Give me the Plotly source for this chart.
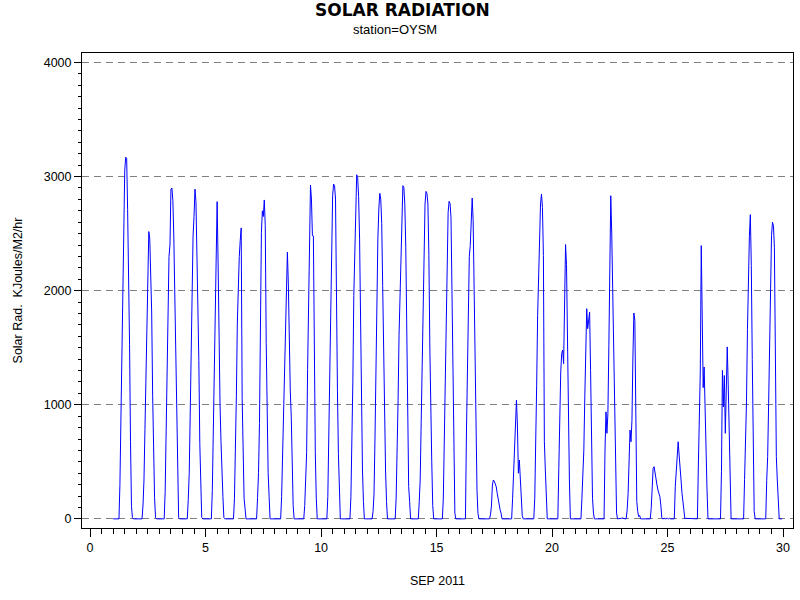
import plotly.graph_objects as go

# Radiação solar horária (KJoules/M2/hr), estação OYSM, setembro 2011
# cada lista = 24 valores horários (hora 0 a 23) do dia
sep01 = [0, 0, 0, 0, 0, 0, 0, 300, 920, 1610, 2230, 2730, 3050, 3170, 3160, 2710, 2180, 1530, 680, 110, 12, 0, 0, 0]
sep02 = [0, 0, 0, 0, 0, 0, 0, 122, 341, 784, 1238, 1745, 2322, 2518, 2454, 2177, 1813, 1084, 463, 186, 12, 0, 0, 0]
sep03 = [0, 0, 0, 0, 0, 0, 240, 730, 1250, 1870, 2300, 2400, 2890, 2900, 2790, 2470, 1990, 1360, 680, 180, 12, 0, 0, 0]
sep04 = [0, 0, 0, 0, 0, 0, 170, 400, 900, 1500, 1850, 2480, 2650, 2890, 2780, 2400, 1950, 1390, 660, 180, 12, 0, 0, 0]
sep05 = [0, 0, 0, 0, 0, 0, 0, 250, 800, 1400, 2000, 2450, 2780, 2250, 1400, 1010, 680, 350, 195, 12, 0, 0, 0, 0]
sep06 = [0, 0, 0, 0, 0, 0, 181, 530, 1084, 1716, 2060, 2300, 2440, 2550, 1055, 414, 181, 93, 0, 0, 0, 0, 0, 0]
sep07 = [0, 0, 0, 0, 0, 0, 186, 405, 836, 1914, 2512, 2700, 2650, 2795, 2570, 1535, 836, 405, 195, 0, 0, 0, 0, 0]
sep08 = [0, 0, 0, 0, 0, 0, 0, 195, 574, 1011, 1157, 1500, 1871, 2337, 2060, 1492, 1122, 900, 492, 117, 0, 0, 0, 0]
sep09 = [0, 0, 0, 0, 0, 0, 0, 117, 312, 580, 1308, 1877, 2570, 2926, 2803, 2483, 2480, 1250, 580, 181, 0, 0, 0, 0]
sep10 = [0, 0, 0, 0, 0, 0, 0, 195, 720, 1405, 2037, 2520, 2832, 2934, 2920, 2803, 1769, 1128, 574, 172, 0, 0, 0, 0]
sep11 = [0, 0, 0, 0, 0, 0, 0, 195, 589, 1192, 1958, 2352, 2710, 3016, 2993, 2824, 2454, 1667, 924, 428, 152, 0, 0, 0]
sep12 = [0, 0, 0, 0, 0, 0, 64, 218, 700, 1384, 1717, 2454, 2716, 2853, 2803, 2590, 2046, 1384, 822, 428, 152, 0, 0, 0]
sep13 = [0, 0, 0, 0, 0, 0, 181, 516, 1040, 1609, 1987, 2308, 2622, 2920, 2905, 2760, 2380, 1571, 880, 283, 152, 0, 0, 0]
sep14 = [0, 0, 0, 0, 0, 0, 152, 350, 842, 1361, 1996, 2454, 2760, 2870, 2853, 2760, 2308, 1507, 836, 501, 117, 0, 0, 0]
sep15 = [0, 0, 0, 0, 0, 0, 0, 175, 661, 1302, 1914, 2380, 2687, 2783, 2765, 2640, 1856, 1122, 560, 50, 0, 0, 0, 0]
sep16 = [0, 0, 0, 0, 0, 0, 0, 734, 1419, 2017, 2300, 2395, 2620, 2812, 2615, 1900, 1244, 632, 248, 50, 0, 0, 0, 0]
sep17 = [0, 0, 0, 0, 0, 0, 0, 0, 35, 114, 297, 341, 330, 312, 280, 224, 160, 122, 80, 50, 0, 0, 0, 0]
sep18 = [0, 0, 0, 0, 0, 0, 0, 181, 370, 618, 836, 1040, 822, 400, 516, 370, 195, 30, 0, 0, 0, 0, 0, 0]
sep19 = [0, 0, 0, 0, 0, 0, 181, 574, 1171, 1783, 2133, 2468, 2760, 2847, 2730, 2308, 676, 428, 117, 0, 0, 0, 0, 0]
sep20 = [0, 0, 0, 0, 0, 0, 0, 443, 924, 1288, 1449, 1480, 1360, 1880, 2404, 2230, 1492, 836, 341, 0, 0, 0, 0, 0]
sep21 = [0, 0, 0, 0, 0, 0, 0, 181, 355, 603, 1069, 1580, 1842, 1667, 1754, 1813, 1302, 574, 181, 50, 0, 0, 0, 0]
sep22 = [0, 0, 0, 0, 0, 0, 0, 603, 938, 750, 924, 1521, 2433, 2832, 2497, 2017, 1594, 900, 283, 50, 0, 0, 0, 0]
sep23 = [5, 8, 3, 0, 0, 0, 79, 224, 545, 778, 676, 865, 1419, 1804, 1740, 953, 152, 64, 20, 30, 0, 0, 0, 0]
sep24 = [0, 0, 0, 0, 0, 0, 0, 93, 277, 443, 457, 400, 320, 297, 253, 220, 195, 122, 10, 0, 5, 5, 0, 5]
sep25 = [5, 0, 5, 0, 0, 0, 0, 0, 283, 400, 574, 676, 560, 472, 341, 224, 137, 35, 0, 5, 5, 0, 5, 0]
sep26 = [0, 0, 0, 0, 0, 0, 0, 0, 472, 895, 1288, 2395, 1842, 1150, 1331, 851, 589, 253, 0, 0, 0, 0, 0, 0]
sep27 = [0, 0, 0, 0, 0, 0, 0, 0, 414, 1302, 982, 1256, 750, 1302, 1507, 1180, 765, 297, 0, 0, 0, 0, 0, 0]
sep28 = [0, 0, 0, 0, 0, 0, 0, 0, 347, 697, 1026, 1658, 2171, 2477, 2666, 2220, 1396, 647, 64, 0, 0, 0, 0, 0]
sep29 = [0, 0, 0, 0, 0, 0, 0, 335, 545, 1011, 1652, 2191, 2483, 2600, 2570, 2380, 1405, 545, 341, 64, 0, 0, 0, 0]

dias = [sep01, sep02, sep03, sep04, sep05, sep06, sep07, sep08, sep09, sep10,
        sep11, sep12, sep13, sep14, sep15, sep16, sep17, sep18, sep19, sep20,
        sep21, sep22, sep23, sep24, sep25, sep26, sep27, sep28, sep29]

# eixo x em dias do mês (dia + hora/24)
x = []
y = []
for i, valores in enumerate(dias):
    dia = i + 1
    for hora, v in enumerate(valores):
        x.append(dia + hora / 24)
        y.append(v)

FONTE = 'Liberation Sans, Arial, sans-serif'
FONTE_TITULO = 'DejaVu Sans, sans-serif'

fig = go.Figure()
fig.add_trace(go.Scatter(
    x=x, y=y, mode='lines',
    line=dict(color='#0000FF', width=1),
    showlegend=False
))

fig.update_layout(
    width=800, height=600,
    paper_bgcolor='white', plot_bgcolor='white',
    margin=dict(l=82, r=7, t=53, b=72, autoexpand=False),
    font=dict(family=FONTE, size=12, color='black'),
    xaxis=dict(
        range=[-0.35, 30.43], automargin=False,
        tickmode='linear', tick0=0, dtick=5,
        ticks='outside', ticklen=8, tickcolor='black', tickwidth=1,
        minor=dict(dtick=0.5, ticks='outside', ticklen=5, tickcolor='black', showgrid=False),
        showline=True, linecolor='black', linewidth=1, mirror=True,
        showgrid=False, zeroline=False,
        title=dict(text='SEP 2011', standoff=22, font=dict(size=12.5)),
        tickfont=dict(size=12.5),
    ),
    yaxis=dict(
        range=[-80, 4083], automargin=False,
        tickmode='linear', tick0=0, dtick=1000,
        ticks='outside', ticklen=7, tickcolor='black', tickwidth=1,
        minor=dict(dtick=100, ticks='outside', ticklen=3, tickcolor='black', showgrid=False),
        showline=True, linecolor='black', linewidth=1, mirror=True,
        showgrid=True, gridcolor='#808080', griddash='7px,5px', gridwidth=1,
        zeroline=False,
        title=dict(text='Solar Rad.  KJoules/M2/hr', standoff=18, font=dict(size=12.5)),
        tickfont=dict(size=12.5),
    ),
    annotations=[
        dict(text='<b>SOLAR RADIATION</b>', xref='paper', yref='paper',
             x=0.451, y=1.0895, xanchor='center', yanchor='middle',
             showarrow=False, font=dict(size=17, family=FONTE_TITULO)),
        dict(text='station=OYSM', xref='paper', yref='paper',
             x=0.4405, y=1.0495, xanchor='center', yanchor='middle',
             showarrow=False, font=dict(size=13, family=FONTE)),
    ],
)

# sem margem no body, a figura 800x600 ocupa a janela inteira
fig.write_html('out.html',
               config={'displayModeBar': False},
               post_script="document.body.style.margin='0';document.body.style.overflow='hidden';")
